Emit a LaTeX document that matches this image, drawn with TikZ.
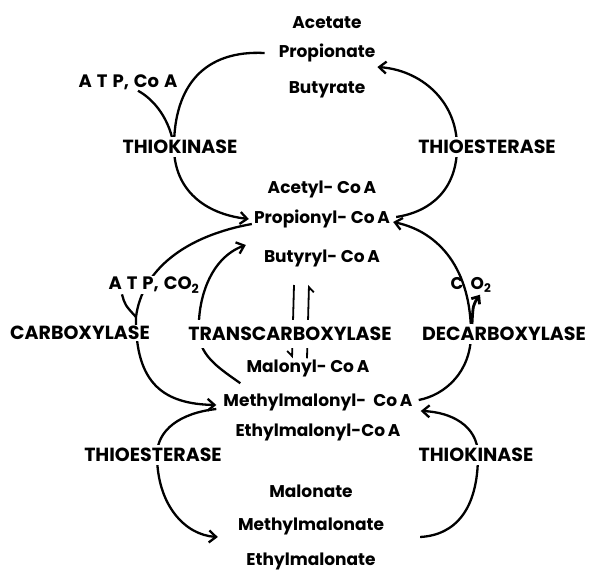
\documentclass[tikz,border=0pt]{standalone}
\usepackage{fontspec}
\setmainfont{Poppins}
\usepackage{tikz}
\usetikzlibrary{arrows.meta}
\pgfdeclarelayer{back}
\pgfsetlayers{back,main}
\tikzstyle{metab} = [font=\fontsize{17}{20}\selectfont\bfseries, inner xsep=2pt, inner ysep=1pt]
\tikzstyle{cofac} = [font=\fontsize{18}{21}\selectfont\bfseries, inner sep=1pt]
\tikzstyle{enzyme} = [font=\fontsize{19}{22}\selectfont\bfseries, fill=white, inner sep=3pt]
\tikzstyle{line} = [line width=2.3pt]
\tikzstyle{flow} = [line width=2.3pt, -{Straight Barb[length=7pt,width=12pt]}]
\tikzstyle{harp} = [line width=1.8pt, -{Straight Barb[right,length=5pt,width=10pt]}]
\tikzstyle{release} = [line width=2.8pt, -{Straight Barb[length=6pt,width=10pt]}]

\begin{document}
\begin{tikzpicture}[x=1pt, y=-1pt, node distance=30pt]
\useasboundingbox (0,0) rectangle (589,570);
\node (acet) [metab] at (327,23) {Acetate};
\node (prop) [metab, below of=acet] {Propionate};
\node (buta) [metab, below of=prop, yshift=-7pt] {Butyrate};
\node (pyl) [metab] at (322,219) {Propionyl- Co\,A};
\node (acyl) [metab, above of=pyl] {Acetyl- Co\,A};
\node (bucoa) [metab, below of=pyl, yshift=-9pt] {Butyryl- Co\,A};
\node (mmal) [metab] at (318,402) {Methylmalonyl-\ \ Co\,A};
\node (malo) [metab, above of=mmal, xshift=-10pt, yshift=4pt] {Malonyl- Co\,A};
\node (emal) [metab, below of=mmal] {Ethylmalonyl-Co\,A};
\node (mmalate) [metab] at (311,526) {Methylmalonate};
\node (malate) [metab, above of=mmalate, yshift=5pt] {Malonate};
\node (emalate) [metab, below of=mmalate, yshift=-5pt] {Ethylmalonate};
\node (atp1) [cofac] at (128,82) {A\;T\;P,\;Co\;A};
\node (tk1) [enzyme] at (180,147) {THIOKINASE};
\node (te1) [enzyme] at (487,147) {THIOESTERASE};
\node (atp2) [cofac, fill=white] at (154,285) {A\;T\;P,\;CO\textsubscript{2}};
\node (co2) [metab] at (471,285) {C\hspace{7pt}O\textsubscript{2}};
\node (carb) [enzyme, inner sep=1pt] at (80,333) {CARBOXYLASE};
\node (trans) [enzyme, inner ysep=7pt] at (290,334) {TRANSCARBOXYLASE};
\node (decarb) [enzyme] at (504,334) {DECARBOXYLASE};
\node (te2) [enzyme] at (153,455) {THIOESTERASE};
\node (tk2) [enzyme] at (476,455) {THIOKINASE};
\coordinate (cjoin) at (136,317);
\begin{pgfonlayer}{back}
\draw [flow] ([xshift=-12pt]prop.west) .. controls (205,50) and (174,85) .. ([xshift=-6pt]tk1.center) .. controls (174,190) and (205,214) .. ([xshift=-3pt]pyl.west);
\draw [line] ([xshift=10pt]atp1.south) .. controls (155,100) and (170,120) .. ([xshift=-6pt]tk1.center);
\draw [flow] ([xshift=4pt,yshift=2pt]pyl.east) .. controls (430,212) and (457,190) .. ([xshift=-30pt]te1.center) .. controls (457,100) and (420,70) .. ([yshift=-14pt]prop.east);
\draw [flow] ([xshift=4pt,yshift=2pt]mmal.east) .. controls (445,395) and (471,372) .. ([xshift=-33pt]decarb.center) .. controls (471,270) and (440,232) .. ([xshift=1pt,yshift=-3pt]pyl.east);
\draw [flow] ([yshift=-5pt]pyl.west) .. controls (185,236) and (142,270) .. (cjoin) .. controls (135,385) and (165,404) .. ([xshift=-5pt,yshift=-3pt]mmal.west);
\draw [line] ([xshift=-32pt]atp2.south) .. controls (125,305) .. (cjoin);
\draw [flow] ([xshift=19pt,yshift=9pt]mmal.north west) .. controls (222,370) and (200,357) .. ([xshift=-91pt]trans.center) .. controls (197,300) and (210,258) .. ([xshift=-6pt,yshift=-26pt]pyl.west);
\draw [harp] ([xshift=-28pt,yshift=-27pt]bucoa.center) -- ([xshift=-16pt]malo.north);
\draw [harp] ([xshift=-1pt]malo.north) -- ([xshift=-13pt,yshift=-27pt]bucoa.center);
\draw [flow] ([xshift=-5pt,yshift=-7pt]mmal.west) .. controls (180,413) and (157,430) .. ([xshift=4pt]te2.center) .. controls (157,505) and (185,535) .. ([xshift=-18pt,yshift=-11pt]mmalate.west);
\draw [flow] ([xshift=34pt,yshift=-11pt]mmalate.east) .. controls (455,535) and (478,510) .. ([xshift=2pt]tk2.center) .. controls (478,425) and (450,412) .. ([xshift=6pt,yshift=-9pt]mmal.east);
\end{pgfonlayer}
\draw [release] ([xshift=-32pt]decarb.north) .. controls (473,305) .. ([xshift=9pt,yshift=-1pt]co2.south);
\end{tikzpicture}
\end{document}
